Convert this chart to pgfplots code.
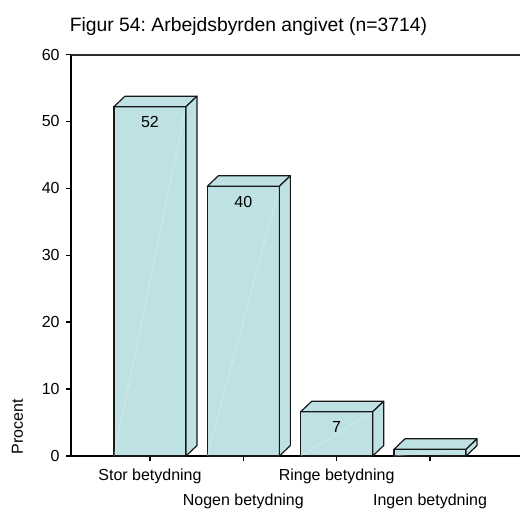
\documentclass[border=0pt]{standalone}
\usepackage{fontspec}
\setmainfont{Liberation Sans}
\usepackage{pgfplots}
\pgfplotsset{compat=1.18}
\usepackage{pgfplotstable}
\frenchspacing

\definecolor{barcol}{RGB}{190,225,228}
\definecolor{topline}{RGB}{45,45,45}

% x = category index, y = percent, lab = printed label
\pgfplotstableread{
x y lab
0 52.2 52
1 40.3 40
2 6.6 7
3 1.0 {}
}\datatable

% half bar width and 3D depth (axis units)
\def\hw{0.386}
\def\ddx{0.118}
\def\ddy{1.57}

% top and side faces of one 3D bar, plus faint glare: #1 = index, #2 = value
\newcommand{\boxfaces}[2]{%
  \pgfmathsetmacro\yv{#2}%
  \pgfmathsetmacro\xa{#1-\hw}%
  \pgfmathsetmacro\xb{#1+\hw}%
  \pgfmathsetmacro\xc{#1+\hw+\ddx}%
  \pgfmathsetmacro\xd{#1-\hw+\ddx}%
  \pgfmathsetmacro\yt{\yv+\ddy}%
  \edef\temp{%
    \noexpand\addplot[glare] coordinates {(\xa,0) (\xb,\yv)};
    \noexpand\addplot[face] coordinates {(\xa,\yv) (\xb,\yv) (\xc,\yt) (\xd,\yt)} -- cycle;
    \noexpand\addplot[face] coordinates {(\xb,0) (\xc,\ddy) (\xc,\yt) (\xb,\yv)} -- cycle;
  }%
  \temp
}

\begin{document}
\begin{tikzpicture}[x=0.75pt,y=0.75pt]
\begin{axis}[
  scale only axis, width=336.75pt, height=301.125pt,
  xmin=-0.846, xmax=3.964, ymin=0, ymax=60,
  clip=false,
  axis x line*=bottom, axis y line*=left,
  axis line style={-, black, line width=1.5pt},
  xtick={0,1,2,3},
  xticklabels={Stor betydning,\raisebox{-18.75pt}{Nogen betydning},Ringe betydning,\raisebox{-18.75pt}{Ingen betydning}},
  ytick={0,10,...,60},
  tick align=outside,
  major tick length=3.5pt,
  tick style={black, line width=1pt},
  /pgf/number format/assume math mode=true,
  tick label style={font=\fontsize{12}{14}\selectfont, text=black},
  xticklabel style={anchor=base, yshift=-15pt},
  yticklabel style={xshift=-1.5pt},
  face/.style={fill=barcol, draw=black!90, line width=0.9pt, line join=round, mark=none},
  glare/.style={white, opacity=0.35, line width=0.5pt, mark=none},
]
\coordinate (O) at (rel axis cs:0,0);
\draw[topline, line width=1.5pt] (rel axis cs:0,1) -- (rel axis cs:1,1);

\addplot[ybar, bar width=0.772, fill=barcol, draw=black!90, line width=0.9pt,
  point meta=explicit symbolic, nodes near coords,
  every node near coord/.append style={anchor=center, yshift=-11.6pt,
    font=\fontsize{12}{14}\selectfont, text=black}]
  table[x=x, y=y, meta=lab]{\datatable};

\pgfplotsinvokeforeach{0,...,3}{
  \pgfplotstablegetelem{#1}{y}\of\datatable
  \boxfaces{#1}{\pgfplotsretval}
}
\end{axis}

\begin{scope}[shift={(O)}]
\node[rotate=90, anchor=base, font=\fontsize{12}{14}\selectfont] at (-48,29) {Procent};
\node[anchor=base, font=\fontsize{14.5}{17}\selectfont] at (177.5,424) {Figur 54: Arbejdsbyrden angivet (n=3714)};
\pgfresetboundingbox
\path[use as bounding box] (-71,-53) rectangle (449,456);
\end{scope}
\end{tikzpicture}
\end{document}
